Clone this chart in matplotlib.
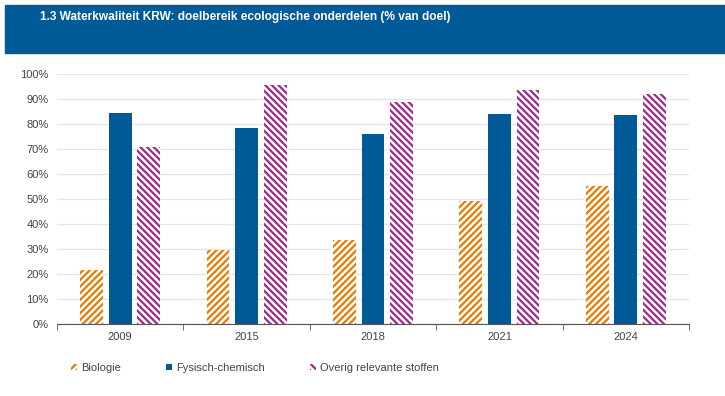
import numpy as np
import matplotlib.pyplot as plt
from matplotlib.patches import Patch, Rectangle

# data
jaren = ["2009", "2015", "2018", "2021", "2024"]
biologie = [21.6, 29.6, 33.6, 49.2, 55.2]
fysisch = [84.5, 78.4, 76.0, 84.0, 83.6]
overig = [70.8, 95.6, 88.8, 93.6, 92.0]
reeksen = ["Biologie", "Fysisch-chemisch", "Overig relevante stoffen"]

oranje = "#E87A00"
blauw = "#005A98"
paars = "#A0288C"

plt.rcParams['font.family'] = ['Liberation Sans', 'DejaVu Sans']
plt.rcParams['hatch.linewidth'] = 1.6

fig = plt.figure(figsize=(7.25, 3.96), dpi=100)

# titelbalk
fig.patches.append(Rectangle((5 / 725, 1 - 53 / 396), 720 / 725, 48 / 396,
                             transform=fig.transFigure, color=blauw, zorder=0))
fig.text(40 / 725, 1 - 17 / 396, "1.3 Waterkwaliteit KRW: doelbereik ecologische onderdelen (% van doel)",
         color="white", fontsize=8.6, fontweight="bold", va="center")

ax = fig.add_axes([57 / 725, 72 / 396, 632 / 725, 250 / 396])
x = np.arange(len(jaren))
w = 0.18
ax.bar(x - 0.226, biologie, w, facecolor="white", edgecolor=oranje, hatch="/////", linewidth=0, zorder=3)
ax.bar(x, fysisch, w, color=blauw, linewidth=0, zorder=3)
ax.bar(x + 0.226, overig, w, facecolor="white", edgecolor=paars, hatch="\\\\\\\\\\", linewidth=0, zorder=3)

ax.set_xlim(-0.5, len(jaren) - 0.5)
ax.set_ylim(0, 100)
ax.set_yticks(np.arange(0, 101, 10))
ax.set_yticklabels([f"{v}%" for v in range(0, 101, 10)])
ax.set_xticks(x)
ax.set_xticklabels(jaren)
ax.set_xticks(np.arange(-0.5, len(jaren), 1), minor=True)
ax.tick_params(axis="x", which="major", length=0, pad=6, labelsize=8, labelcolor="#444444")
ax.tick_params(axis="x", which="minor", length=4, color="#555555", direction="out")
ax.tick_params(axis="y", length=0, labelsize=8, labelcolor="#444444", pad=6)
ax.grid(axis="y", color="#e6e6e6", linewidth=1, zorder=0)
for s in ["top", "right", "left"]:
    ax.spines[s].set_visible(False)
ax.spines["bottom"].set_color("#555555")
ax.spines["bottom"].set_zorder(4)

handles = [Patch(facecolor="white", edgecolor=oranje, hatch="/////", linewidth=0),
           Patch(facecolor=blauw, linewidth=0),
           Patch(facecolor="white", edgecolor=paars, hatch="\\\\\\\\\\", linewidth=0)]
fig.legend(handles, reeksen, loc="center left", bbox_to_anchor=(61 / 725, 1 - 368 / 396),
           ncol=3, frameon=False, fontsize=8, handlelength=0.55, handleheight=0.55,
           handletextpad=0.4, columnspacing=4.0, labelcolor="#444444")

fig.savefig("out.png", dpi=100, facecolor="white")
